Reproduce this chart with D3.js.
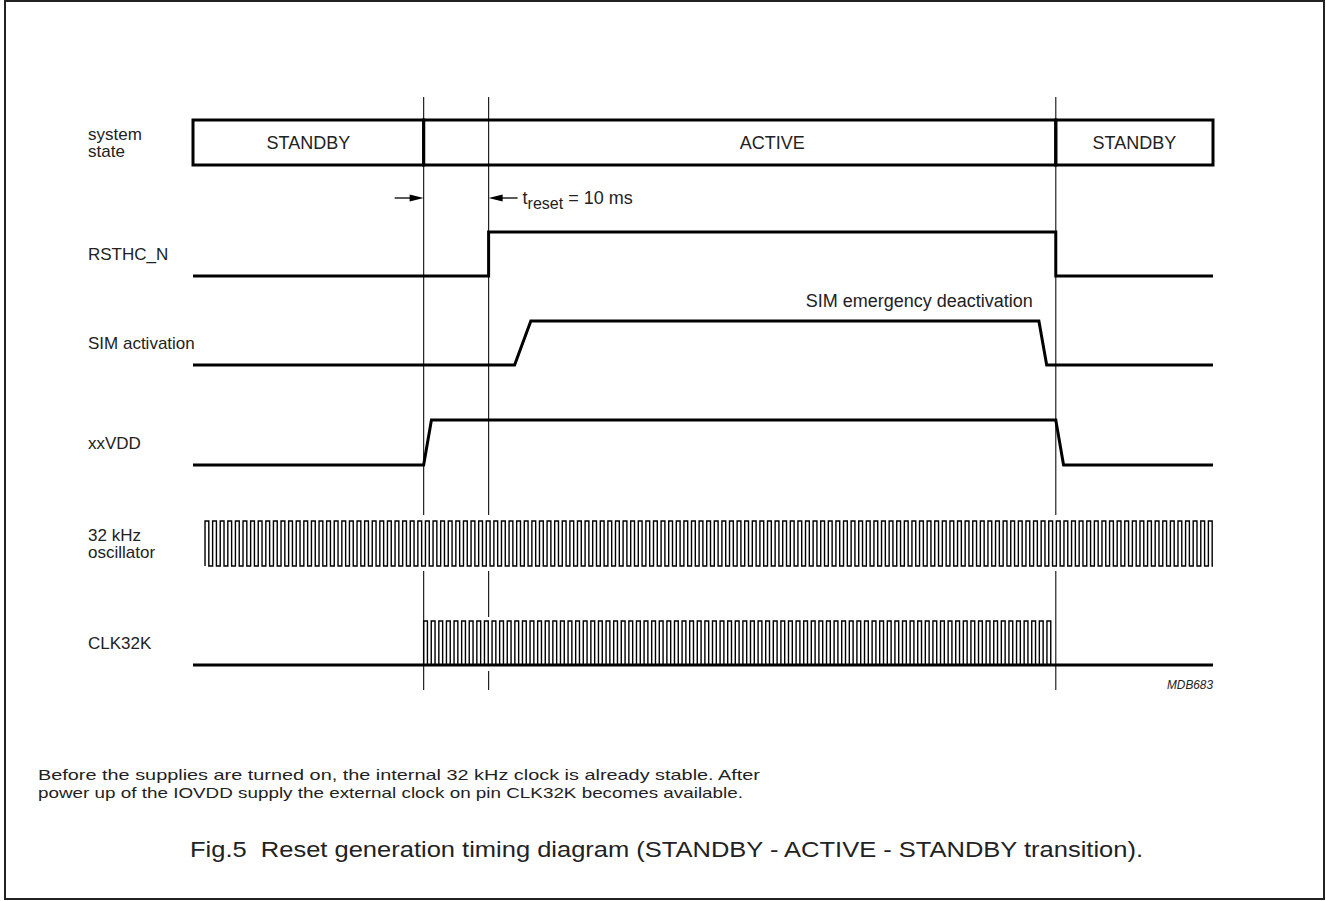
<!DOCTYPE html>
<html>
<head>
<meta charset="utf-8">
<script src="https://cdn.jsdelivr.net/npm/d3@7"></script>
<style>
  body { margin: 0; background: #fff; }
  svg { display: block; font-family: "Liberation Sans", Arial, sans-serif; }
</style>
</head>
<body>
<svg width="1326" height="901"></svg>
<script>
// Time axis in ms (t_reset = 10 ms between the 2nd and 1st marker)
let timeDomain = [0, 157];

// System state bar
let stateNames = ['STANDBY', 'ACTIVE', 'STANDBY'];
let stateBounds = [0, 35.5, 132.8, 157];
let stateLabelSpans = [[0, 35.5], [45.5, 132.8], [132.8, 157]];

// Vertical markers
let markerTimes = [35.5, 45.5, 132.8];

// Waveforms: [time, level]
let rsthcN = [[0, 0], [45.5, 0], [45.5, 1], [132.8, 1], [132.8, 0], [157, 0]];
let simActivation = [[0, 0], [49.5, 0], [52, 1], [130.2, 1], [131.4, 0], [157, 0]];
let xxVDD = [[0, 0], [35.5, 0], [36.7, 1], [132.8, 1], [134, 0], [157, 0]];

// Clocks: start time, cycles, period (ms)
let oscStart = 1.85, oscCycles = 133, oscEnd = 157;
let clkStart = 35.5, clkCycles = 83;
let clkPeriod = 1.17;

let rowLabels = [
  ['system', 'state'],
  ['RSTHC_N'],
  ['SIM activation'],
  ['xxVDD'],
  ['32 kHz', 'oscillator'],
  ['CLK32K']
];

// layout: low / high pixel of each lane
let lanes = [
  { low: 165, high: 120 },
  { low: 276, high: 232 },
  { low: 365, high: 321 },
  { low: 465, high: 420 },
  { low: 566, high: 521 },
  { low: 665, high: 621 }
];

let svg = d3.select('svg');

let x = d3.scaleLinear().domain(timeDomain).range([193, 1213]);
let yLane = lanes.map(l => d3.scaleLinear().domain([0, 1]).range([l.low, l.high]));

// Frame
svg.append('rect')
  .attr('x', 5).attr('y', 1)
  .attr('width', 1319).attr('height', 898)
  .attr('fill', 'none')
  .attr('stroke', '#222')
  .attr('stroke-width', 2);

// Marker lines
svg.append('g')
  .selectAll('line')
  .data(markerTimes)
  .enter()
  .append('line')
  .attr('x1', d => x(d)).attr('x2', d => x(d))
  .attr('y1', 97).attr('y2', 690)
  .attr('stroke', '#222')
  .attr('stroke-width', 1.2);

// white masks so the marker lines break behind the clock pulses
svg.append('rect')
  .attr('x', x(oscStart) + 1).attr('y', lanes[4].high - 6)
  .attr('width', x(oscEnd) - x(oscStart)).attr('height', lanes[4].low - lanes[4].high + 11)
  .attr('fill', '#fff');
svg.append('rect')
  .attr('x', x(clkStart) + 2).attr('y', lanes[5].high - 4)
  .attr('width', (clkCycles - 0.5) * (x(clkPeriod) - x(0)) - 3).attr('height', lanes[5].low - lanes[5].high + 10)
  .attr('fill', '#fff');

// System state bar
let bar = svg.append('g').attr('class', 'state-bar');
bar.selectAll('rect')
  .data(stateNames)
  .enter()
  .append('rect')
  .attr('x', (d, i) => x(stateBounds[i]))
  .attr('y', lanes[0].high)
  .attr('width', (d, i) => x(stateBounds[i + 1]) - x(stateBounds[i]))
  .attr('height', lanes[0].low - lanes[0].high)
  .attr('fill', 'none')
  .attr('stroke', '#000')
  .attr('stroke-width', 3);
bar.selectAll('text')
  .data(stateNames)
  .enter()
  .append('text')
  .attr('x', (d, i) => (x(stateLabelSpans[i][0]) + x(stateLabelSpans[i][1])) / 2)
  .attr('y', (lanes[0].low + lanes[0].high) / 2)
  .attr('dy', '0.36em')
  .attr('text-anchor', 'middle')
  .attr('font-size', 18)
  .attr('fill', '#222')
  .text(d => d);

// Level waveforms
let line = lane => d3.line().x(d => x(d[0])).y(d => yLane[lane](d[1]));
[[1, rsthcN], [2, simActivation], [3, xxVDD]].forEach(([lane, wave]) => {
  svg.append('path')
    .datum(wave)
    .attr('d', line(lane))
    .attr('fill', 'none')
    .attr('stroke', '#000')
    .attr('stroke-width', 3)
    .attr('stroke-linejoin', 'miter');
});

// Clock builder
function clockPoints(start, cycles, period, tail) {
  let pts = [];
  for (let i = 0; i < cycles; i++) {
    let t = start + i * period;
    pts.push([t, 0], [t, 1], [t + period / 2, 1], [t + period / 2, 0]);
  }
  if (tail !== undefined) pts.push([tail, 0]);
  return pts;
}

// 32 kHz oscillator
svg.append('path')
  .datum(clockPoints(oscStart, oscCycles, clkPeriod, oscEnd))
  .attr('d', line(4))
  .attr('fill', 'none')
  .attr('stroke', '#000')
  .attr('stroke-width', 1.4);

// CLK32K baseline and pulses
svg.append('path')
  .datum([[timeDomain[0], 0], [timeDomain[1], 0]])
  .attr('d', line(5))
  .attr('stroke', '#000')
  .attr('stroke-width', 3);
svg.append('path')
  .datum(clockPoints(clkStart, clkCycles, clkPeriod))
  .attr('d', line(5))
  .attr('fill', 'none')
  .attr('stroke', '#000')
  .attr('stroke-width', 1.4);

// Row labels
let labels = svg.append('g').attr('font-size', 17).attr('fill', '#222');
rowLabels.forEach((lines, i) => {
  let cy = (lanes[i].low + lanes[i].high) / 2;
  let t = labels.append('text').attr('x', 88).attr('y', cy - (lines.length - 1) * 8.5);
  lines.forEach((s, j) => {
    t.append('tspan').attr('x', 88).attr('dy', j === 0 ? '0.36em' : 17).text(s);
  });
});

// t_reset arrows
let arrowY = 198;
let arrow = svg.append('g').attr('stroke', '#000').attr('fill', '#000');
arrow.append('line')
  .attr('x1', x(markerTimes[0]) - 29).attr('x2', x(markerTimes[0]) - 8)
  .attr('y1', arrowY).attr('y2', arrowY).attr('stroke-width', 1.3);
arrow.append('path')
  .attr('d', `M${x(markerTimes[0])},${arrowY} l-14,-3.5 l0,7 z`)
  .attr('stroke', 'none');
arrow.append('line')
  .attr('x1', x(markerTimes[1]) + 8).attr('x2', x(markerTimes[1]) + 29)
  .attr('y1', arrowY).attr('y2', arrowY).attr('stroke-width', 1.3);
arrow.append('path')
  .attr('d', `M${x(markerTimes[1])},${arrowY} l14,-3.5 l0,7 z`)
  .attr('stroke', 'none');

let tr = svg.append('text')
  .attr('x', x(markerTimes[1]) + 34)
  .attr('y', 204)
  .attr('font-size', 18)
  .attr('fill', '#222');
tr.append('tspan').text('t');
tr.append('tspan').attr('font-size', 16).attr('dy', 5).text('reset');
tr.append('tspan').attr('dy', -5).text(' = 10 ms');

// SIM emergency deactivation
svg.append('text')
  .attr('x', x(130.2) - 6)
  .attr('y', 307)
  .attr('text-anchor', 'end')
  .attr('font-size', 18)
  .attr('fill', '#222')
  .text('SIM emergency deactivation');

// Figure code
svg.append('text')
  .attr('x', 1213).attr('y', 689)
  .attr('text-anchor', 'end')
  .attr('font-size', 13)
  .attr('font-style', 'italic')
  .attr('fill', '#222')
  .attr('textLength', 46).attr('lengthAdjust', 'spacingAndGlyphs')
  .text('MDB683');

// Note
svg.append('text')
  .attr('x', 38).attr('y', 780)
  .attr('font-size', 15)
  .attr('fill', '#222')
  .attr('textLength', 722).attr('lengthAdjust', 'spacingAndGlyphs')
  .text('Before the supplies are turned on, the internal 32 kHz clock is already stable. After');
svg.append('text')
  .attr('x', 38).attr('y', 798)
  .attr('font-size', 15)
  .attr('fill', '#222')
  .attr('textLength', 705).attr('lengthAdjust', 'spacingAndGlyphs')
  .text('power up of the IOVDD supply the external clock on pin CLK32K becomes available.');

// Caption
svg.append('text')
  .attr('x', 190).attr('y', 857)
  .attr('font-size', 22)
  .attr('fill', '#222')
  .attr('textLength', 953).attr('lengthAdjust', 'spacingAndGlyphs')
  .attr('xml:space', 'preserve')
  .text('Fig.5  Reset generation timing diagram (STANDBY - ACTIVE - STANDBY transition).');
</script>
</body>
</html>
